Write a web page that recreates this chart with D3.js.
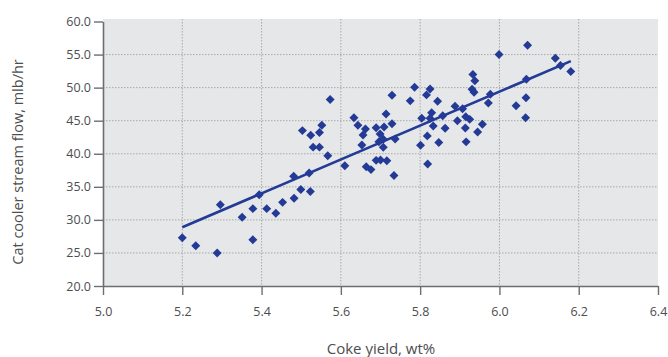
<!DOCTYPE html>
<html>
<head>
<meta charset="utf-8">
<script src="https://cdn.jsdelivr.net/npm/d3@7"></script>
<style>
  html, body { margin: 0; padding: 0; background: #fff; }
  svg { display: block; }
  text { font-family: "Open Sans", sans-serif; }
</style>
</head>
<body>
<svg id="chart" width="668" height="357"></svg>
<script>
// Data
const cokeYield = [
  5.200, 5.234, 5.288, 5.296, 5.351, 5.378, 5.378, 5.394, 5.413, 5.436,
  5.453, 5.482, 5.481, 5.499, 5.523, 5.520, 5.503, 5.524, 5.552, 5.546,
  5.530, 5.546, 5.567, 5.573, 5.610, 5.633, 5.643, 5.662, 5.656, 5.653,
  5.664, 5.676, 5.689, 5.700, 5.716, 5.689, 5.709, 5.714, 5.729, 5.729,
  5.699, 5.707, 5.696, 5.707, 5.737, 5.734, 5.775, 5.786, 5.804, 5.801,
  5.818, 5.819, 5.816, 5.825, 5.829, 5.825, 5.833, 5.844, 5.847, 5.857,
  5.863, 5.888, 5.894, 5.907, 5.915, 5.925, 5.914, 5.916, 5.933, 5.938,
  5.931, 5.936, 5.945, 5.957, 5.972, 5.977, 5.999, 6.042, 6.066, 6.067,
  6.068, 6.071, 6.141, 6.154, 6.180
];
const streamFlow = [
  27.3, 26.1, 25.0, 32.3, 30.4, 27.0, 31.7, 33.8, 31.7, 31.0,
  32.65, 33.26, 36.6, 34.6, 34.3, 37.1, 43.5, 42.8, 44.3, 43.2,
  41.0, 41.0, 39.7, 48.2, 38.2, 45.45, 44.3, 43.74, 42.84, 41.32,
  38.04, 37.6, 39.0, 39.05, 38.95, 43.94, 44.04, 46.0, 44.55, 48.84,
  42.99, 42.18, 41.82, 40.97, 42.23, 36.7, 48.0, 50.05, 45.36, 41.3,
  42.7, 38.45, 48.9, 49.8, 46.2, 45.36, 44.2, 47.95, 41.7, 45.76,
  43.85, 47.2, 45.0, 46.8, 45.6, 45.2, 43.9, 41.8, 52.0, 51.05,
  49.75, 49.3, 43.3, 44.45, 47.67, 49.0, 55.0, 47.27, 45.45, 48.48,
  51.26, 56.4, 54.45, 53.35, 52.45
];
// Trend line end points
const trendX = [5.2, 6.18];
const trendY = [28.88, 54.0];

const xTicks = [5.0, 5.2, 5.4, 5.6, 5.8, 6.0, 6.2, 6.4];
const yTicks = [20, 25, 30, 35, 40, 45, 50, 55, 60];

const xLabel = "Coke yield, wt%";
const yLabel = "Cat cooler stream flow, mlb/hr";

const points = cokeYield.map((v, i) => ({ x: v, y: streamFlow[i] }));
const trend = trendX.map((v, i) => ({ x: v, y: trendY[i] }));

const svg = d3.select("#chart");
const mLeft = 103, mRight = 658, mTop = 21.5, mBottom = 286;

const x = d3.scaleLinear().domain([5.0, 6.4]).range([mLeft, mRight]);
const y = d3.scaleLinear().domain([20, 60]).range([mBottom, mTop]);

const blue = "#233a96";
const axisColor = "#6d6e71";
const textColor = "#4d4d4f";

// plot background
svg.append("rect")
  .attr("x", mLeft).attr("y", mTop - 2.5)
  .attr("width", mRight - mLeft).attr("height", mBottom - mTop + 2.5)
  .attr("fill", "#e6e7e8");

// grid lines
const grid = svg.append("g");
grid.selectAll("line.h").data(yTicks.filter(t => t > 20 && t < 60)).join("line")
  .attr("class", "h")
  .attr("x1", mLeft).attr("x2", mRight)
  .attr("y1", d => y(d)).attr("y2", d => y(d))
  .attr("stroke", "#a7a9ac").attr("stroke-width", 1)
  .attr("stroke-dasharray", "1.5,1.5");
grid.selectAll("line.v").data(xTicks.filter(t => t > 5.0 && t < 6.4)).join("line")
  .attr("class", "v")
  .attr("x1", d => x(d)).attr("x2", d => x(d))
  .attr("y1", mTop - 2.5).attr("y2", mBottom)
  .attr("stroke", "#a7a9ac").attr("stroke-width", 1)
  .attr("stroke-dasharray", "1.5,1.5");

// axes
const xAxis = d3.axisBottom(x).tickValues(xTicks).tickFormat(d3.format(".1f"))
  .tickSize(9).tickPadding(12).tickSizeOuter(0);
const yAxis = d3.axisLeft(y).tickValues(yTicks).tickFormat(d3.format(".1f"))
  .tickSize(9).tickPadding(3).tickSizeOuter(0);

const gx = svg.append("g").attr("transform", `translate(0,${mBottom})`).call(xAxis);
const gy = svg.append("g").attr("transform", `translate(${mLeft},0)`).call(yAxis);
[gx, gy].forEach(g => {
  g.select(".domain").attr("stroke", axisColor).attr("stroke-width", 1.6);
  g.selectAll(".tick line").attr("stroke", axisColor).attr("stroke-width", 1.4);
  g.selectAll(".tick text").attr("fill", textColor)
    .style("font-family", "'Open Sans', sans-serif").style("font-size", "12.5px");
});

// trend line
svg.append("path")
  .datum(trend)
  .attr("d", d3.line().x(d => x(d.x)).y(d => y(d.y)))
  .attr("fill", "none").attr("stroke", blue).attr("stroke-width", 2.6);

// markers (diamonds)
const diamond = d3.symbol().type(d3.symbolSquare).size(40);
svg.append("g").selectAll("path").data(points).join("path")
  .attr("d", diamond)
  .attr("transform", d => `translate(${x(d.x)},${y(d.y)}) rotate(45)`)
  .attr("fill", blue);

// axis titles
svg.append("text")
  .attr("x", 381).attr("y", 354)
  .attr("text-anchor", "middle")
  .attr("fill", textColor).style("font-size", "15px")
  .text(xLabel);
svg.append("text")
  .attr("transform", `translate(23,162) rotate(-90)`)
  .attr("text-anchor", "middle")
  .attr("fill", textColor).style("font-size", "14.5px")
  .text(yLabel);
</script>
</body>
</html>
